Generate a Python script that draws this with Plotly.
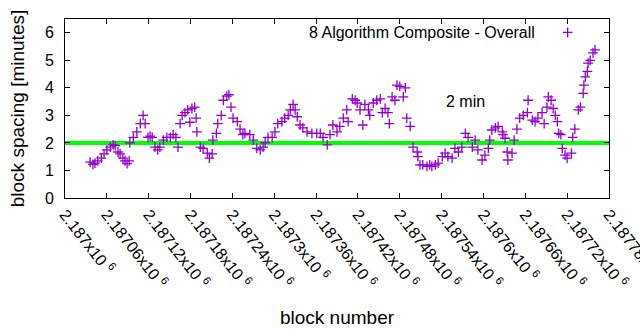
import plotly.graph_objects as go

# block numbers and block spacing (minutes)
blocks = [2187036, 2187040, 2187043, 2187047, 2187052, 2187056, 2187060, 2187065, 2187069, 2187072,
          2187076, 2187079, 2187083, 2187086, 2187089, 2187092, 2187093, 2187098, 2187103, 2187108,
          2187112, 2187115, 2187119, 2187122, 2187125, 2187129, 2187133, 2187136, 2187141, 2187146,
          2187151, 2187155, 2187159, 2187162, 2187165, 2187168, 2187172, 2187176, 2187179, 2187182,
          2187186, 2187188, 2187189, 2187194, 2187198, 2187204, 2187207, 2187211, 2187212, 2187217,
          2187219, 2187224, 2187227, 2187232, 2187235, 2187238, 2187241, 2187247, 2187251, 2187255,
          2187258, 2187265, 2187270, 2187275, 2187280, 2187284, 2187287, 2187291, 2187297, 2187301,
          2187305, 2187311, 2187315, 2187320, 2187323, 2187327, 2187330, 2187333, 2187337, 2187341,
          2187347, 2187354, 2187361, 2187366, 2187370, 2187376, 2187380, 2187384, 2187390, 2187394,
          2187399, 2187404, 2187406, 2187412, 2187416, 2187419, 2187423, 2187427, 2187430, 2187435,
          2187437, 2187442, 2187447, 2187452, 2187455, 2187459, 2187463, 2187465, 2187469, 2187473,
          2187476, 2187480, 2187485, 2187488, 2187490, 2187495, 2187499, 2187505, 2187506, 2187509,
          2187513, 2187519, 2187523, 2187526, 2187531, 2187535, 2187541, 2187545, 2187549, 2187555,
          2187559, 2187564, 2187569, 2187574, 2187578, 2187584, 2187588, 2187592, 2187598, 2187602,
          2187607, 2187609, 2187612, 2187617, 2187621, 2187627, 2187628, 2187631, 2187634, 2187635,
          2187641, 2187644, 2187648, 2187652, 2187657, 2187663, 2187664, 2187670, 2187674, 2187678,
          2187684, 2187687, 2187691, 2187693, 2187697, 2187700, 2187703, 2187706, 2187708, 2187711,
          2187713, 2187717, 2187720, 2187726, 2187728, 2187731, 2187736, 2187739, 2187743, 2187744,
          2187746, 2187749, 2187750, 2187753, 2187757, 2187760]
spacing = [1.30, 1.22, 1.27, 1.35, 1.45, 1.60, 1.75, 1.85, 1.93, 1.90,
           1.67, 1.60, 1.45, 1.35, 1.25, 1.35, 2.00, 2.20, 2.40, 2.70,
           3.00, 2.70, 2.20, 2.25, 2.20, 1.85, 1.75, 1.85, 2.10, 2.20,
           2.20, 2.30, 2.20, 1.85, 2.70, 3.00, 3.10, 3.20, 2.75, 3.25,
           3.30, 2.90, 2.40, 1.85, 1.80, 1.63, 1.45, 1.60, 2.10, 2.35,
           2.70, 3.00, 3.55, 3.70, 3.75, 3.30, 2.90, 2.77, 2.50, 2.30,
           2.35, 2.30, 2.10, 1.80, 1.75, 1.85, 2.00, 2.20, 2.20, 2.40,
           2.70, 2.77, 2.90, 3.00, 3.20, 3.40, 3.20, 2.95, 2.65, 2.55,
           2.40, 2.35, 2.35, 2.35, 2.20, 1.93, 2.30, 2.65, 2.40, 2.60,
           2.90, 3.20, 2.77, 3.60, 3.55, 3.45, 3.20, 2.65, 3.40, 3.20,
           3.00, 3.45, 3.55, 3.60, 3.10, 3.25, 3.10, 2.70, 3.67, 3.55,
           4.10, 4.05, 3.67, 4.00, 2.90, 2.60, 1.85, 1.67, 1.50, 1.20,
           1.20, 1.15, 1.20, 1.15, 1.20, 1.27, 1.50, 1.63, 1.50, 1.45,
           1.80, 1.67, 1.85, 2.35, 2.20, 1.85, 2.10, 1.75, 1.38, 1.56,
           1.80, 2.10, 2.47, 2.55, 2.60, 2.40, 2.30, 2.17, 1.67, 1.38,
           1.63, 2.10, 2.50, 2.90, 3.00, 3.10, 3.55, 2.83, 2.77, 2.90,
           3.10, 2.70, 3.30, 3.67, 3.55, 3.25, 3.00, 2.77, 2.35, 2.30,
           1.80, 1.56, 1.45, 1.63, 2.20, 2.50, 3.20, 3.30, 3.80, 4.10,
           4.40, 4.60, 4.90, 5.00, 5.27, 5.38]

x_range = [2187000, 2187780]
tick_vals = list(range(2187000, 2187781, 60))
tick_mantissa = ["2.187", "2.18706", "2.18712", "2.18718", "2.18724", "2.1873", "2.18736",
                 "2.18742", "2.18748", "2.18754", "2.1876", "2.18766", "2.18772", "2.18778"]
tick_text = [m + "x10&nbsp;<sup>6</sup>" for m in tick_mantissa]
target = 2.0
series_name = "8 Algorithm Composite - Overall"

FONT = "Liberation Sans, Arial, sans-serif"
PURPLE = "#9400D3"

fig = go.Figure()
fig.add_trace(go.Scatter(
    x=x_range, y=[target, target], mode="lines",
    line=dict(color="#00FF00", width=4), showlegend=False, hoverinfo="skip"))
fig.add_trace(go.Scatter(
    x=blocks, y=spacing, mode="markers", name=series_name,
    marker=dict(symbol="cross-thin-open", size=7, color=PURPLE,
                line=dict(color=PURPLE, width=1.3)),
    showlegend=False))
# legend key sample
fig.add_trace(go.Scatter(
    x=[0.924], y=[0.925], xaxis="x2", yaxis="y2", mode="markers",
    marker=dict(symbol="cross-thin-open", size=7, color=PURPLE,
                line=dict(color=PURPLE, width=1.3)),
    showlegend=False, hoverinfo="skip"))

fig.update_layout(
    width=640, height=330,
    margin=dict(l=65, r=31, t=19, b=132),
    paper_bgcolor="white", plot_bgcolor="white",
    font=dict(family=FONT, size=16, color="black"),
    xaxis=dict(range=x_range, tickmode="array", tickvals=tick_vals, ticktext=tick_text,
               tickangle=52, ticks="inside", ticklen=5, tickcolor="black",
               showline=True, linecolor="black", linewidth=1, mirror="ticks",
               showgrid=False, zeroline=False, automargin=False,
               ticklabeloverflow="allow",
               title=dict(text="block number", standoff=20),
               tickfont=dict(size=16)),
    yaxis=dict(range=[0, 6.5], tickvals=[0, 1, 2, 3, 4, 5, 6],
               ticks="inside", ticklen=5, tickcolor="black", ticklabelstandoff=7,
               showline=True, linecolor="black", linewidth=1, mirror="ticks",
               showgrid=False, zeroline=False, automargin=False,
               title=dict(text="block spacing [minutes]", standoff=15)),
    xaxis2=dict(range=[0, 1], overlaying="x", visible=False, fixedrange=True),
    yaxis2=dict(range=[0, 1], overlaying="y", visible=False, fixedrange=True),
    annotations=[
        dict(text=series_name, xref="paper", yref="paper", x=0.868, y=0.925,
             xanchor="right", yanchor="middle", showarrow=False,
             font=dict(family=FONT, size=16)),
        dict(text="2 min", x=2187574, y=3.5, xanchor="center", yanchor="middle",
             showarrow=False, font=dict(family=FONT, size=16)),
    ],
)

fig.write_html("out.html")
